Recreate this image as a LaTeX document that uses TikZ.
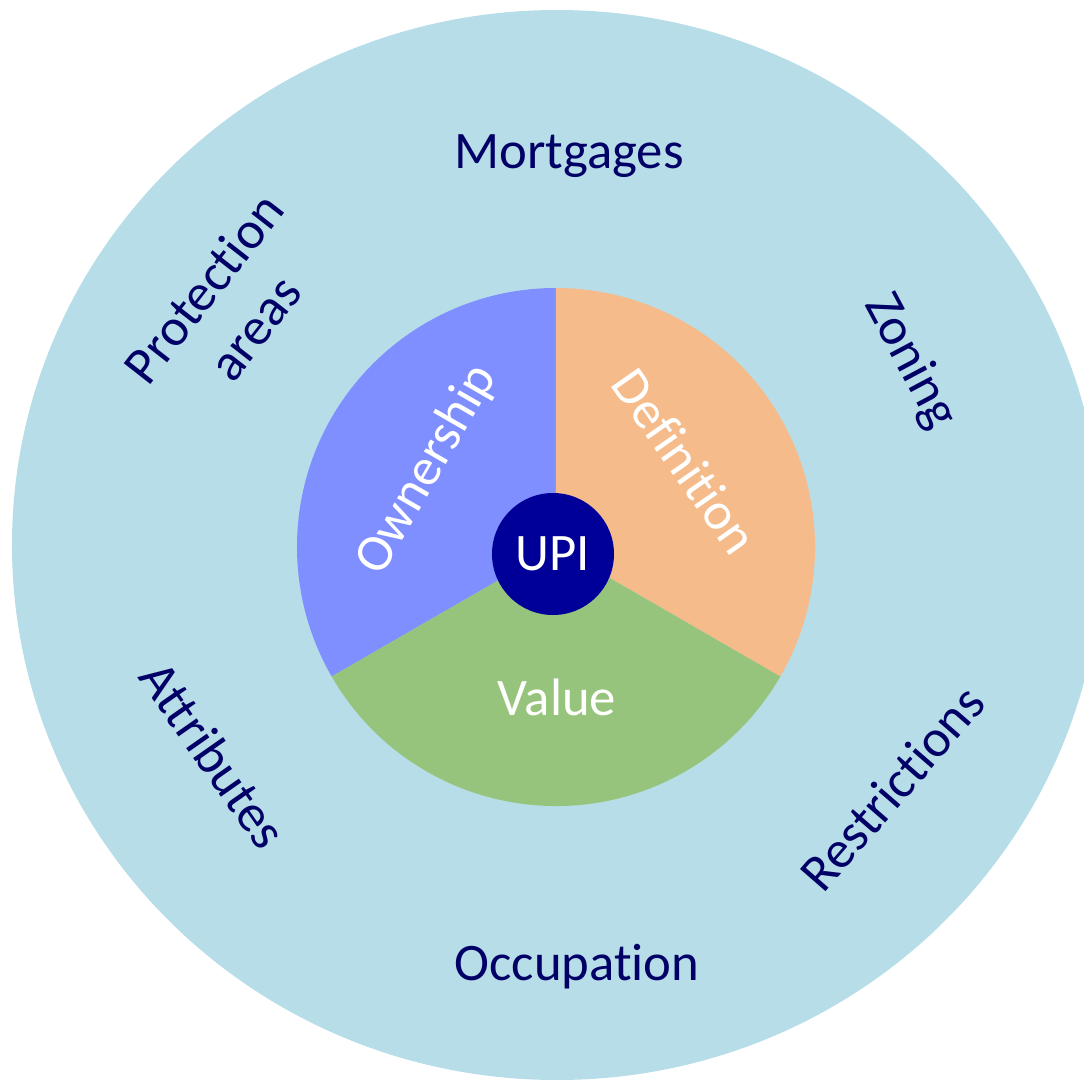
\documentclass[tikz,border=0pt]{standalone}
\usepackage{fontspec}
\setmainfont{Carlito}[Ligatures={NoCommon}]
\usetikzlibrary{shapes.geometric}
\definecolor{outerblue}{HTML}{B7DDE8}
\definecolor{ownercol}{HTML}{7F8FFF}
\definecolor{defcol}{HTML}{F6BB8A}
\definecolor{valuecol}{HTML}{97C47C}
\definecolor{upiblue}{HTML}{000099}
\definecolor{navytext}{HTML}{000066}
\tikzstyle{outerlabel} = [text=navytext, font=\fontsize{30}{37}\selectfont, align=center, inner sep=0pt]
\tikzstyle{innerlabel} = [text=white, font=\fontsize{30}{37}\selectfont, inner sep=0pt]
\tikzstyle{hub} = [circle, fill=upiblue, text=white, minimum size=2.44cm, inner sep=0pt, font=\fontsize{30}{37}\selectfont]

\begin{document}
\begin{tikzpicture}
            \useasboundingbox (-11.12,-10.64) rectangle (10.56,10.94);
            % outer ring and the three sectors
            \fill[outerblue] (0.02,0.04) ellipse [x radius=10.9, y radius=10.7];
            \fill[ownercol] (0,0) -- (90:5.18) arc (90:210:5.18) -- cycle;
            \fill[defcol] (0,0) -- (-30:5.18) arc (-30:90:5.18) -- cycle;
            \fill[valuecol] (0,0) -- (210:5.18) arc (210:330:5.18) -- cycle;

            \node (upi) [hub] at (-0.06,-0.14) {UPI};
            \node (ownership) [innerlabel, rotate=60] at (-2.58,1.54) {Ownership};
            \node (definition) [innerlabel, rotate=-55] at (2.58,1.72) {Definition};
            \node (value) [innerlabel, anchor=base] at (0.02,-3.36) {Value};

            \node (mortgages) [outerlabel, anchor=base] at (0.26,7.58) {Mortgages};
            \node (zoning) [outerlabel, rotate=-62] at (7.08,3.70) {Zoning};
            \node (restrictions) [outerlabel, rotate=49] at (6.72,-4.82) {Restrictions};
            \node (occupation) [outerlabel, anchor=base] at (0.42,-8.66) {Occupation};
            \node (attributes) [outerlabel, rotate=-55] at (-6.85,-4.16) {Attributes};
            \node (protection) [outerlabel, rotate=52] at (-6.54,4.78) {Protection\\areas};
        \end{tikzpicture}
\end{document}
